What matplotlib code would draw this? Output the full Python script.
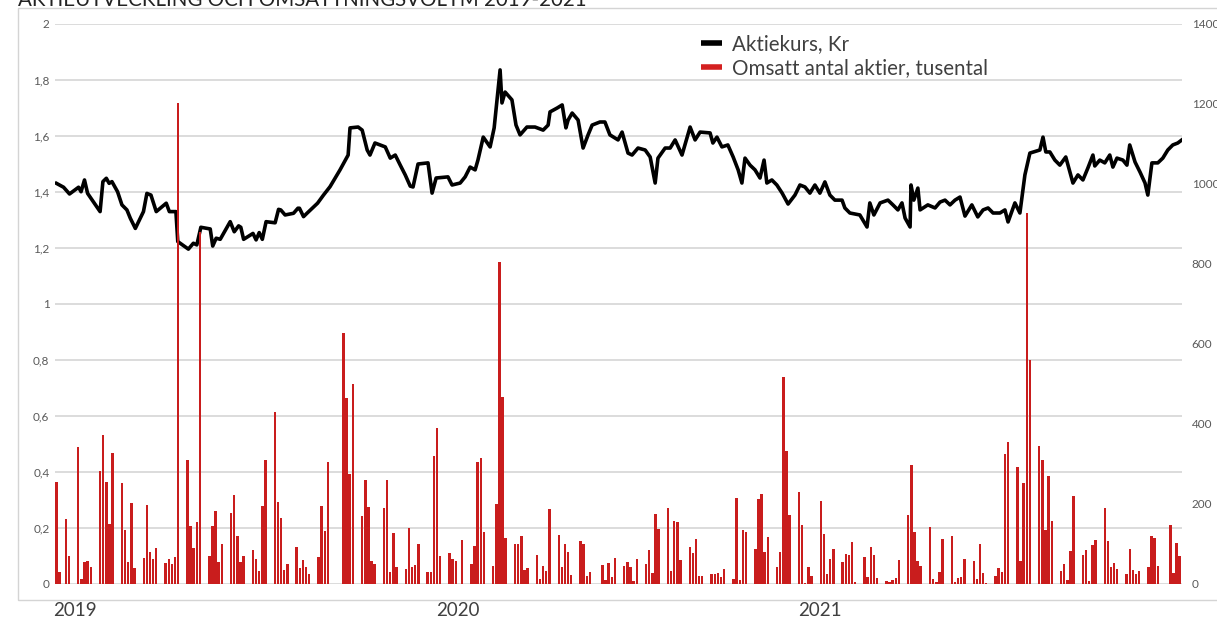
import matplotlib
matplotlib.use("Agg")
import matplotlib.pyplot as plt
from matplotlib.lines import Line2D
from matplotlib.patches import Rectangle
import numpy as np

plt.rcParams['font.family'] = ['Lato', 'DejaVu Sans']

title = "AKTIEUTVECKLING OCH OMSÄTTNINGSVOLYM 2019-2021"
legend_labels = ["Aktiekurs, Kr", "Omsatt antal aktier, tusental"]
year_labels = ["2019", "2020", "2021"]
year_label_slots = [6.0, 128.7, 244.7]

# Traded volume (thousands), in groups of five trading-day slots
volume_groups = [
    [256, 29, 0, 162, 69], [342, 12, 54, 57, 43], [283, 373, 256, 150, 327],
    [252, 135, 55, 203, 40], [64, 198, 79, 62, 90], [53, 62, 49, 68, 1202],
    [309, 144, 90, 155, 880], [69, 145, 183, 55, 101], [177, 222, 121, 55, 70],
    [85, 62, 32, 195, 309], [429, 204, 165, 35, 49], [92, 40, 59, 43, 26],
    [67, 196, 132, 304, 0], [0, 627, 464, 275, 501], [170, 261, 192, 57, 50],
    [190, 261, 29, 127, 43], [37, 140, 42, 47, 99], [29, 31, 321, 390, 69],
    [77, 62, 57, 0, 110], [50, 95, 305, 314, 129], [46, 200, 805, 468, 116],
    [100, 100, 119, 35, 39], [72, 12, 44, 32, 187], [122, 43, 101, 80, 22],
    [107, 100, 20, 30, 0], [48, 10, 52, 18, 66], [46, 56, 42, 8, 62],
    [51, 85, 28, 174, 137], [190, 32, 158, 155, 61], [92, 77, 112, 19, 19],
    [25, 25, 28, 17, 37], [12, 215, 11, 135, 130], [87, 212, 224, 80, 118],
    [43, 80, 517, 333, 172], [229, 147, 2, 42, 19], [207, 125, 26, 63, 87],
    [54, 74, 72, 105, 5], [67, 17, 93, 73, 15], [8, 5, 9, 16, 61],
    [172, 297, 131, 57, 46], [142, 12, 6, 31, 112], [121, 4, 14, 17, 62],
    [57, 12, 100, 27, 2], [20, 40, 30, 325, 355], [293, 57, 252, 927, 560],
    [346, 309, 135, 269, 158], [33, 50, 11, 82, 219], [73, 84, 7, 97, 110],
    [190, 107, 43, 52, 38], [25, 87, 35, 24, 33], [42, 120, 116, 46, 0],
    [148, 27, 102, 70, 0],
]

# Share price (Kr) at positions along the same slot axis
price_pos = [
    0.0, 2.3, 4.2, 7.1, 7.9, 9.0, 10.0, 14.0, 14.9, 16.0, 16.9, 17.8, 19.6, 21.0,
    22.6, 23.7, 25.3, 27.9, 29.0, 30.3, 32.0, 35.2, 36.2, 38.3, 38.9, 42.3, 43.9,
    45.0, 46.3, 49.3, 50.1, 51.2, 52.5, 55.7, 57.0, 58.4, 59.1, 60.0, 63.0, 64.0,
    65.0, 66.0, 67.2, 70.1, 71.2, 71.9, 73.3, 76.0, 77.4, 77.9, 79.2, 80.3, 83.7,
    85.6, 87.7, 90.9, 93.5, 94.1, 96.7, 98.0, 99.6, 100.5, 102.1, 105.4, 107.0,
    108.6, 110.2, 111.8, 113.4, 114.3, 115.9, 119.1, 120.4, 121.7, 125.5, 126.8,
    129.4, 131.0, 132.6, 134.2, 135.1, 136.8, 139.0, 140.3, 142.2, 142.8, 143.8,
    146.0, 147.3, 148.6, 150.8, 153.4, 156.0, 157.6, 158.2, 160.5, 162.1, 163.3,
    164.0, 165.3, 167.2, 168.8, 170.4, 171.7, 174.2, 175.8, 177.4, 180.0, 181.3,
    183.2, 184.5, 186.4, 188.7, 190.3, 191.9, 192.8, 195.1, 196.7, 198.3, 200.5,
    203.1, 204.7, 206.3, 209.5, 210.4, 211.7, 213.3, 215.2, 216.9, 218.5, 219.7,
    220.7, 222.3, 223.9, 225.5, 226.8, 227.7, 229.3, 230.9, 232.6, 234.5, 236.7,
    238.3, 239.9, 241.5, 243.1, 244.7, 246.3, 247.9, 249.5, 251.8, 252.7, 254.3,
    257.5, 259.8, 260.7, 262.0, 264.0, 266.5, 268.1, 269.7, 271.0, 272.0, 273.6,
    273.9, 274.8, 276.1, 276.8, 279.3, 281.6, 283.2, 284.8, 286.4, 288.0, 289.6,
    291.2, 293.4, 295.3, 297.0, 298.6, 300.2, 302.4, 304.0, 305.0, 307.2, 308.8,
    310.4, 312.0, 315.2, 316.2, 317.1, 318.4, 320.0, 321.6, 323.5, 325.8, 327.4,
    329.0, 330.6, 332.2, 332.8, 334.4, 336.0, 337.6, 338.6, 339.9, 341.8, 343.1,
    344.0, 345.7, 347.3, 348.9, 349.8, 351.1, 353.0, 354.6, 356.2, 357.8, 359.4,
    360.7,
]
price = [
    1.431, 1.417, 1.393, 1.417, 1.401, 1.443, 1.395, 1.330, 1.437, 1.449, 1.431,
    1.437, 1.401, 1.354, 1.336, 1.306, 1.270, 1.330, 1.395, 1.389, 1.330, 1.360,
    1.330, 1.330, 1.223, 1.196, 1.217, 1.211, 1.274, 1.268, 1.207, 1.235, 1.231,
    1.294, 1.258, 1.279, 1.274, 1.231, 1.252, 1.229, 1.255, 1.231, 1.294, 1.290,
    1.338, 1.336, 1.318, 1.324, 1.342, 1.342, 1.312, 1.324, 1.360, 1.389, 1.419,
    1.479, 1.532, 1.629, 1.632, 1.621, 1.550, 1.532, 1.575, 1.561, 1.521, 1.532,
    1.496, 1.461, 1.421, 1.418, 1.500, 1.504, 1.396, 1.450, 1.454, 1.425, 1.432,
    1.454, 1.489, 1.479, 1.514, 1.596, 1.561, 1.629, 1.836, 1.718, 1.757, 1.729,
    1.639, 1.604, 1.632, 1.632, 1.621, 1.639, 1.686, 1.700, 1.711, 1.629, 1.657,
    1.682, 1.657, 1.557, 1.604, 1.639, 1.650, 1.650, 1.604, 1.586, 1.614, 1.539,
    1.532, 1.557, 1.550, 1.525, 1.432, 1.521, 1.557, 1.557, 1.586, 1.532, 1.632,
    1.586, 1.614, 1.611, 1.575, 1.596, 1.561, 1.568, 1.525, 1.479, 1.432, 1.521,
    1.496, 1.479, 1.450, 1.514, 1.432, 1.443, 1.425, 1.396, 1.357, 1.389, 1.425,
    1.418, 1.396, 1.425, 1.396, 1.436, 1.389, 1.371, 1.371, 1.343, 1.325, 1.318,
    1.275, 1.361, 1.318, 1.361, 1.371, 1.354, 1.336, 1.361, 1.307, 1.275, 1.425,
    1.371, 1.414, 1.336, 1.354, 1.343, 1.364, 1.371, 1.354, 1.371, 1.382, 1.314,
    1.354, 1.311, 1.336, 1.343, 1.325, 1.325, 1.336, 1.293, 1.361, 1.325, 1.461,
    1.539, 1.550, 1.596, 1.543, 1.543, 1.514, 1.496, 1.525, 1.432, 1.461, 1.443,
    1.486, 1.532, 1.493, 1.514, 1.504, 1.532, 1.489, 1.521, 1.514, 1.496, 1.568,
    1.507, 1.471, 1.432, 1.389, 1.504, 1.504, 1.521, 1.550, 1.568, 1.575, 1.586,
]

left_ticks = [0, 0.2, 0.4, 0.6, 0.8, 1.0, 1.2, 1.4, 1.6, 1.8, 2.0]
right_ticks = [0, 200, 400, 600, 800, 1000, 1200, 1400]

RED = "#c91d1d"
GRID = "#d9d9d9"
TXT = "#595959"

W, H = 1217, 621
fig = plt.figure(figsize=(W / 100, H / 100), dpi=100)
fig.patch.set_facecolor("white")

# outer frame
fig.add_artist(Rectangle((18 / W, 1 - 600 / H), 1.2, (600 - 8) / H,
                         transform=fig.transFigure, fill=False,
                         edgecolor="#d4d4d4", linewidth=1.0))

ax = fig.add_axes([55 / W, 1 - 584 / H, (1182 - 55) / W, (584 - 24) / H])
ax2 = ax.twinx()

# bars
slots, vols = [], []
for g, grp in enumerate(volume_groups):
    for k, v in enumerate(grp):
        if v > 0:
            slots.append(g * 7 + k)
            vols.append(v)
ax2.bar(slots, vols, width=0.78, color=RED, edgecolor="none", zorder=3)

# price line
ax.plot(price_pos, price, color="black", linewidth=2.6, solid_joinstyle="round",
        zorder=2)

ax.set_xlim(-0.45, 360.75)
ax.set_ylim(0, 2)
ax2.set_ylim(0, 1400)

ax.set_yticks(left_ticks)
ax.set_yticklabels([("%g" % t).replace(".", ",") for t in left_ticks])
ax2.set_yticks(right_ticks)
ax2.set_yticklabels([str(t) for t in right_ticks])

ax.grid(axis="y", color=GRID, linewidth=1.3)
ax.set_axisbelow(True)

for a in (ax, ax2):
    for s in a.spines.values():
        s.set_visible(False)
ax.tick_params(axis="y", length=0, pad=4, labelsize=8.5, labelcolor=TXT)
ax2.tick_params(axis="y", length=0, pad=7, labelsize=8.5, labelcolor=TXT)

ax.set_xticks(year_label_slots)
ax.set_xticklabels(year_labels)
ax.tick_params(axis="x", length=0, pad=13, labelsize=13.5, labelcolor="#404040")

# legend
handles = [Line2D([0], [0], color="black", linewidth=4.0, solid_capstyle="butt"),
           Line2D([0], [0], color="#d42020", linewidth=4.0, solid_capstyle="butt")]
leg = ax.legend(handles, legend_labels, loc="upper left",
                bbox_to_anchor=((685 - 55) / (1182 - 55), 1 + 6 / 560),
                frameon=False, fontsize=14.8, handlelength=1.0,
                handletextpad=0.5, labelspacing=0.2, borderpad=0.3)
for t in leg.get_texts():
    t.set_color("#404040")

fig.text(18 / W, 1 - 6.5 / H, title, fontsize=14.8, color="#222222",
         ha="left", va="baseline")

fig.savefig("out.png", dpi=100)
